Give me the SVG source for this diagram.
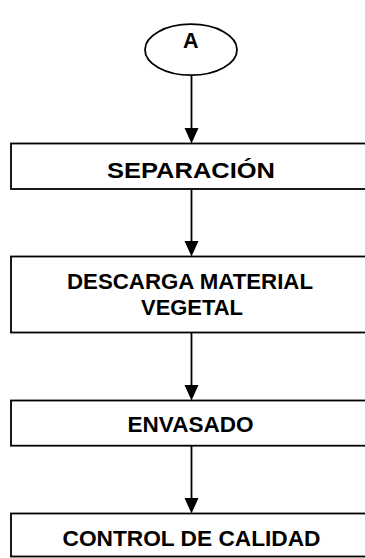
<svg xmlns="http://www.w3.org/2000/svg" width="365" height="558" viewBox="0 0 365 558">
<defs>
<style>
.box{fill:#fff;stroke:#000;stroke-width:1.8}
.ln{stroke:#000;stroke-width:1.8;fill:none}
.ah{fill:#000}
text{font-family:"Liberation Sans",Arial,sans-serif;font-weight:700;font-size:21.5px;fill:#000;text-anchor:middle}
</style>
</defs>
<rect width="365" height="558" fill="#fff"/>
<g id="connectors">
<line class="ln" x1="191.5" y1="75.5" x2="191.5" y2="130"/>
<polygon class="ah" points="184.5,128 198.5,128 191.5,143.5"/>
<line class="ln" x1="191.5" y1="189" x2="191.5" y2="243"/>
<polygon class="ah" points="184.5,241 198.5,241 191.5,256.5"/>
<line class="ln" x1="191.5" y1="332.5" x2="191.5" y2="387"/>
<polygon class="ah" points="184.5,385 198.5,385 191.5,400.5"/>
<line class="ln" x1="191.5" y1="445.7" x2="191.5" y2="500"/>
<polygon class="ah" points="184.5,498 198.5,498 191.5,513.5"/>
</g>
<g id="node-a">
<ellipse class="box" cx="191" cy="49.7" rx="46" ry="25.5"/>
<text x="190.7" y="47.5">A</text>
</g>
<g id="node-separacion">
<rect class="box" x="11" y="143.5" width="362" height="45.5"/>
<text x="191" y="177.8" textLength="168" lengthAdjust="spacingAndGlyphs">SEPARACIÓN</text>
</g>
<g id="node-descarga">
<rect class="box" x="11" y="256.5" width="362" height="76"/>
<text x="190" y="288.5" textLength="246" lengthAdjust="spacingAndGlyphs">DESCARGA MATERIAL</text>
<text x="192" y="315" textLength="102" lengthAdjust="spacingAndGlyphs">VEGETAL</text>
</g>
<g id="node-envasado">
<rect class="box" x="11" y="400.5" width="362" height="45.2"/>
<text x="190.5" y="432.4" textLength="126" lengthAdjust="spacingAndGlyphs">ENVASADO</text>
</g>
<g id="node-control">
<rect class="box" x="11" y="513.5" width="362" height="43"/>
<text x="191.5" y="545.8" textLength="258" lengthAdjust="spacingAndGlyphs">CONTROL DE CALIDAD</text>
</g>
</svg>
